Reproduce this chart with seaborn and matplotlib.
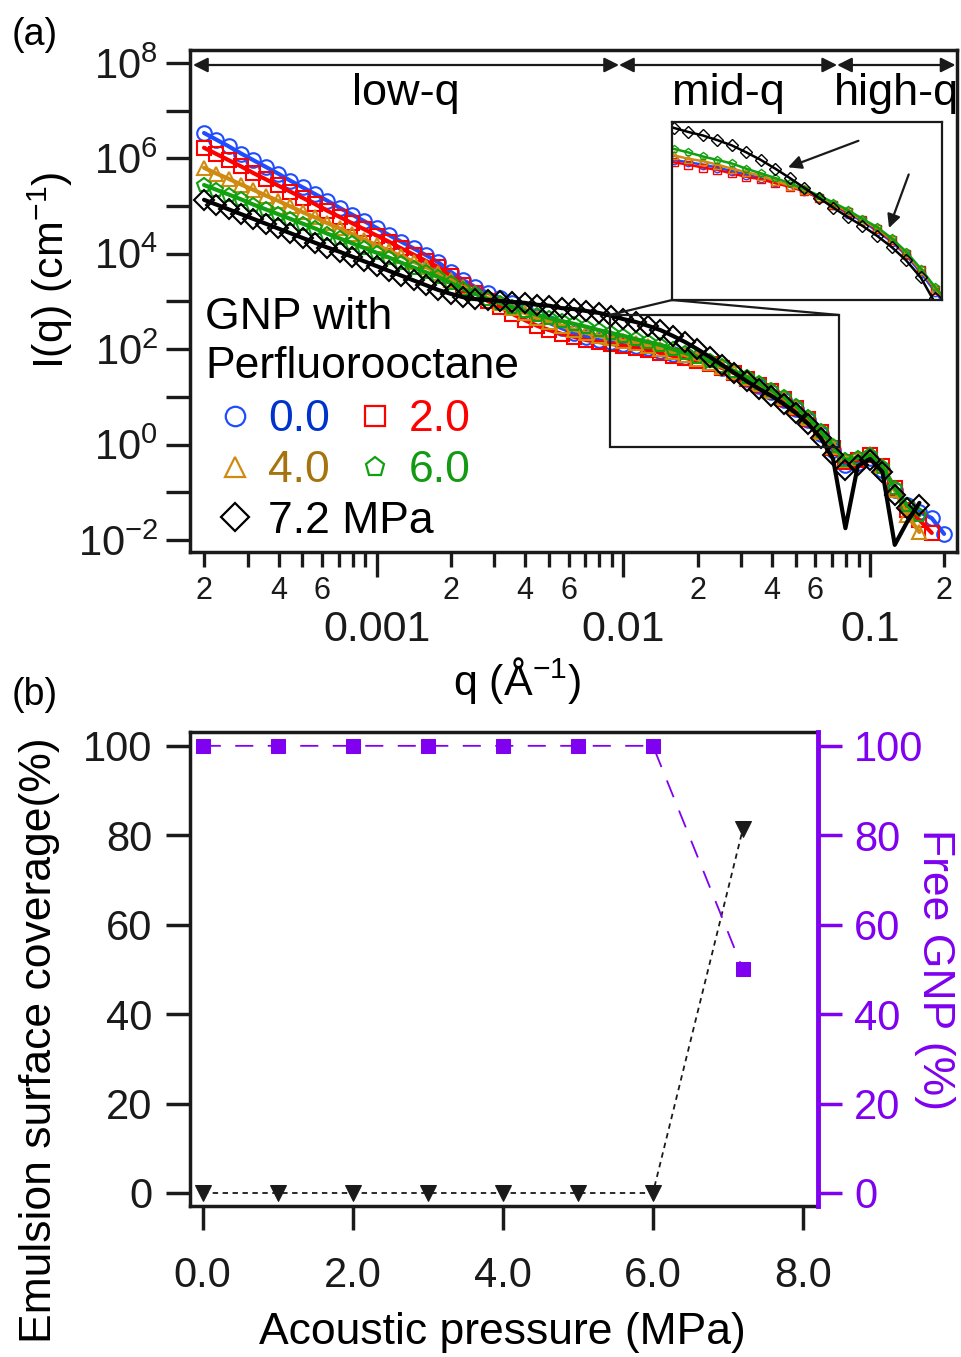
import numpy as np
import pandas as pd
import matplotlib
matplotlib.use("Agg")
import matplotlib.pyplot as plt
import seaborn as sns
from matplotlib.lines import Line2D
from matplotlib.patches import Rectangle, ConnectionPatch
from matplotlib.ticker import FixedLocator, FuncFormatter, LogLocator, NullLocator
from matplotlib.transforms import blended_transform_factory

sns.set_theme(style="ticks")
plt.rcParams["font.family"] = ["Liberation Sans", "DejaVu Sans"]
plt.rcParams["mathtext.fontset"] = "custom"
plt.rcParams["mathtext.rm"] = "Liberation Sans"
plt.rcParams["mathtext.it"] = "Liberation Sans:italic"
plt.rcParams["mathtext.bf"] = "Liberation Sans:bold"
plt.rcParams["axes.unicode_minus"] = False
plt.rcParams["text.color"] = "black"
plt.rcParams["axes.labelcolor"] = "black"
plt.rcParams["xtick.color"] = "black"
plt.rcParams["ytick.color"] = "black"

nan = np.nan

# ---- (a) scattering curves, log10(q) grid and log10(I) per pressure ----
LOG_Q = [-3.70, -3.65, -3.60, -3.55, -3.50, -3.45, -3.40, -3.35, -3.30, -3.25,
         -3.20, -3.15, -3.10, -3.05, -3.00, -2.95, -2.90, -2.85, -2.80, -2.75,
         -2.70, -2.65, -2.60, -2.55, -2.50, -2.45, -2.40, -2.35, -2.30, -2.25,
         -2.20, -2.15, -2.10, -2.05, -2.00, -1.95, -1.90, -1.85, -1.80, -1.75,
         -1.70, -1.65, -1.60, -1.55, -1.50, -1.45, -1.40, -1.35, -1.30, -1.25,
         -1.20, -1.15, -1.10, -1.05, -1.00, -0.95, -0.90, -0.85, -0.80, -0.75,
         -0.70]

LOG_I_00 = [6.53, 6.39, 6.25, 6.10, 5.96, 5.82, 5.68, 5.53, 5.39, 5.25,
            5.11, 4.96, 4.82, 4.68, 4.54, 4.39, 4.25, 4.11, 3.97, 3.82,
            3.62, 3.45, 3.30, 3.18, 3.07, 2.97, 2.82, 2.67, 2.55, 2.44,
            2.34, 2.26, 2.19, 2.15, 2.11, 2.07, 2.02, 1.96, 1.90, 1.84,
            1.77, 1.71, 1.61, 1.50, 1.38, 1.23, 1.10, 0.93, 0.75, 0.52,
            0.22, -0.11, -0.43, -0.39, -0.28, -0.53, -0.95, -1.27, -1.41, -1.54,
            -1.87]

LOG_I_20 = [6.22, 6.09, 5.96, 5.83, 5.69, 5.56, 5.43, 5.30, 5.17, 5.04,
            4.90, 4.77, 4.64, 4.51, 4.38, 4.25, 4.11, 3.98, 3.85, 3.72,
            3.53, 3.35, 3.18, 3.01, 2.88, 2.74, 2.61, 2.49, 2.40, 2.32,
            2.26, 2.19, 2.15, 2.11, 2.07, 2.02, 1.98, 1.92, 1.86, 1.82,
            1.75, 1.69, 1.61, 1.50, 1.38, 1.25, 1.12, 0.96, 0.77, 0.54,
            0.26, -0.07, -0.36, -0.32, -0.22, -0.45, -0.91, -1.37, -1.58, -1.85,
            nan]

LOG_I_40 = [5.80, 5.68, 5.57, 5.45, 5.34, 5.22, 5.11, 4.99, 4.87, 4.76,
            4.64, 4.53, 4.41, 4.29, 4.18, 4.06, 3.95, 3.83, 3.72, 3.60,
            3.45, 3.30, 3.18, 3.07, 2.97, 2.86, 2.76, 2.65, 2.57, 2.49,
            2.40, 2.34, 2.28, 2.23, 2.17, 2.13, 2.07, 2.00, 1.94, 1.88,
            1.79, 1.71, 1.63, 1.52, 1.40, 1.27, 1.12, 0.98, 0.79, 0.56,
            0.26, -0.05, -0.32, -0.28, -0.20, -0.45, -0.95, -1.48, -1.83, nan,
            nan]

LOG_I_60 = [5.44, 5.34, 5.24, 5.14, 5.03, 4.93, 4.83, 4.73, 4.63, 4.53,
            4.42, 4.32, 4.22, 4.12, 4.02, 3.92, 3.81, 3.71, 3.61, 3.51,
            3.39, 3.26, 3.16, 3.05, 2.97, 2.88, 2.80, 2.72, 2.65, 2.59,
            2.53, 2.47, 2.40, 2.34, 2.28, 2.21, 2.15, 2.09, 2.00, 1.92,
            1.84, 1.75, 1.65, 1.54, 1.42, 1.29, 1.14, 1.00, 0.81, 0.58,
            0.29, -0.03, -0.32, -0.28, -0.22, -0.47, -0.91, -1.27, -1.48, nan,
            nan]

LOG_I_72 = [5.13, 5.03, 4.93, 4.83, 4.73, 4.63, 4.53, 4.43, 4.33, 4.23,
            4.13, 4.04, 3.94, 3.84, 3.74, 3.64, 3.54, 3.44, 3.34, 3.24,
            3.16, 3.09, 3.05, 3.03, 3.01, 2.99, 2.97, 2.93, 2.91, 2.86,
            2.84, 2.80, 2.76, 2.70, 2.63, 2.57, 2.49, 2.40, 2.28, 2.15,
            2.00, 1.84, 1.67, 1.50, 1.33, 1.17, 1.02, 0.85, 0.66, 0.43,
            0.14, -0.22, -0.53, -0.43, -0.32, -0.57, -1.06, -1.33, -1.27, nan,
            nan]

# fit of the 7.2 MPa curve at high q (form-factor minima)
FIT_72_LOG_Q = [-1.30, -1.25, -1.20, -1.15, -1.10, -1.05, -1.00, -0.95, -0.90, -0.85, -0.80]
FIT_72_LOG_I = [0.66, 0.43, 0.14, -0.30, -1.75, -0.45, -0.30, -0.57, -2.10, -1.62, -1.22]

PRESSURE_LABELS = ["0.0", "2.0", "4.0", "6.0", "7.2 MPa"]
MARKERS = ["o", "s", "^", "p", "D"]
LINE_COLORS = ["#1f4cff", "#ff0000", "#d08a10", "#10a010", "#000000"]
TEXT_COLORS = ["#0033cc", "#ff0000", "#a5740e", "#129a12", "#000000"]

REGION_EDGES = [1.8e-4, 0.0096, 0.0735, 0.222]
REGION_NAMES = ["low-q", "mid-q", "high-q"]
ZOOM_Q = [0.0088, 0.0748]
ZOOM_I = [0.89, 521.0]

# ---- (b) ----
PRESSURE = [0.0, 1.0, 2.0, 3.0, 4.0, 5.0, 6.0, 7.2]
COVERAGE = [0, 0, 0, 0, 0, 0, 0, 81.5]
FREE_GNP = [100, 100, 100, 100, 100, 100, 100, 50]
PURPLE = "#8000f0"

all_series = [LOG_I_00, LOG_I_20, LOG_I_40, LOG_I_60, LOG_I_72]

fig = plt.figure(figsize=(9.61, 13.57), dpi=100)
ax = fig.add_axes([0.1977, 0.5932, 0.7981, 0.3700])
axb = fig.add_axes([0.1977, 0.1113, 0.6535, 0.3493])


def draw_curves(target, ms, mew, lw):
    for vals, m, c, lab in zip(all_series, MARKERS, LINE_COLORS, PRESSURE_LABELS):
        df = pd.DataFrame({"q": 10 ** np.array(LOG_Q), "I": 10 ** np.array(vals)}).dropna()
        sns.lineplot(data=df, x="q", y="I", ax=target, marker=m, linestyle="",
                     markersize=ms, markerfacecolor="none", markeredgecolor=c,
                     markeredgewidth=mew, color=c, estimator=None, sort=False)
        if lab == "7.2 MPa":
            base = df[np.log10(df["q"]) <= -1.299]
            sns.lineplot(data=base, x="q", y="I", ax=target, color=c, lw=lw,
                         estimator=None, sort=False)
            fit = pd.DataFrame({"q": 10 ** np.array(FIT_72_LOG_Q),
                                "I": 10 ** np.array(FIT_72_LOG_I)})
            sns.lineplot(data=fit, x="q", y="I", ax=target, color=c, lw=lw,
                         estimator=None, sort=False)
        else:
            sns.lineplot(data=df, x="q", y="I", ax=target, color=c, lw=lw,
                         estimator=None, sort=False)


# ---------------- panel (a) ----------------
ax.set_xscale("log")
ax.set_yscale("log")
ax.set_xlim(1.75e-4, 0.225)
ax.set_ylim(10 ** -2.25, 10 ** 8.27)
draw_curves(ax, ms=10.5, mew=1.5, lw=3)

ax.xaxis.set_major_locator(FixedLocator([1e-3, 1e-2, 1e-1]))
ax.xaxis.set_minor_locator(LogLocator(base=10, subs=(2, 3, 4, 5, 6, 7, 8, 9), numticks=30))
ax.xaxis.set_major_formatter(FuncFormatter(lambda v, p: f"{v:g}"))


def q_minor(v, p):
    m = int(round(v / 10 ** np.floor(np.log10(v) + 1e-9)))
    return str(m) if m in (2, 4, 6) else ""


ax.xaxis.set_minor_formatter(FuncFormatter(q_minor))
ax.yaxis.set_major_locator(FixedLocator([10.0 ** k for k in range(-2, 9)]))
ax.yaxis.set_minor_locator(NullLocator())
ax.yaxis.set_major_formatter(FuncFormatter(
    lambda v, p: (r"$\mathregular{10^{%d}}$" % round(np.log10(v))) if round(np.log10(v)) % 2 == 0 else ""))

ax.tick_params(axis="x", which="major", direction="out", length=18, width=2.4, pad=24, labelsize=31, colors="k")
ax.tick_params(axis="x", which="minor", direction="out", length=11, width=2.4, pad=6, labelsize=22, colors="k")
ax.tick_params(axis="y", which="major", direction="out", length=17, width=2.4, pad=6, labelsize=30, colors="k")
ax.tick_params(top=False, right=False, which="both")
for s in ax.spines.values():
    s.set_linewidth(2.5)
    s.set_color("k")

ax.set_xlabel("q (Å$\\mathregular{^{-1}}$)", fontsize=31, va="center")
ax.xaxis.set_label_coords(0.426, -0.255)
ax.set_ylabel("I(q) (cm$\\mathregular{^{-1}}$)", fontsize=31, va="center")
ax.yaxis.set_label_coords(-0.1825, 0.562)

# q-range arrows
trans = blended_transform_factory(ax.transData, ax.transAxes)
for lo, hi, name in zip(REGION_EDGES[:-1], REGION_EDGES[1:], REGION_NAMES):
    ax.annotate("", xy=(hi, 0.970), xytext=(lo, 0.970), xycoords=trans, textcoords=trans,
                arrowprops=dict(arrowstyle="<|-|>", color="k", lw=1.6, mutation_scale=22,
                                shrinkA=0, shrinkB=0))
    ax.text(np.sqrt(lo * hi), 0.914, name, transform=trans, ha="center", va="center", fontsize=32.5)

# zoom box + inset
ax.add_patch(Rectangle((ZOOM_Q[0], ZOOM_I[0]), ZOOM_Q[1] - ZOOM_Q[0], ZOOM_I[1] - ZOOM_I[0],
                       fill=False, ec="k", lw=1.6, zorder=5))
axin = fig.add_axes([0.6993, 0.7789, 0.2810, 0.1312])
axin.set_xscale("log")
axin.set_yscale("log")
draw_curves(axin, ms=6, mew=1.0, lw=1.8)
axin.set_xlim(ZOOM_Q[0], ZOOM_Q[1])
axin.set_ylim(10 ** -0.25, 10 ** 2.8)
axin.set_xticks([])
axin.set_yticks([])
axin.xaxis.set_minor_locator(NullLocator())
axin.yaxis.set_minor_locator(NullLocator())
axin.set_xlabel("")
axin.set_ylabel("")
for s in axin.spines.values():
    s.set_linewidth(1.6)
    s.set_color("k")
for corner in [(ZOOM_Q[0], ZOOM_I[1]), (ZOOM_Q[1], ZOOM_I[1])]:
    fig.add_artist(ConnectionPatch(xyA=(0, 0), coordsA=axin.transAxes, xyB=corner,
                                   coordsB=ax.transData, color="k", lw=1.6))
axin.annotate("", xy=(0.42, 0.74), xytext=(0.70, 0.90), xycoords="axes fraction",
              arrowprops=dict(arrowstyle="-|>", color="k", lw=1.6, mutation_scale=20))
axin.annotate("", xy=(0.80, 0.39), xytext=(0.88, 0.72), xycoords="axes fraction",
              arrowprops=dict(arrowstyle="-|>", color="k", lw=1.6, mutation_scale=20))

# legend: first column 0.0 / 4.0 / 7.2 MPa, second column 2.0 / 6.0
order = [0, 2, 4, 1, 3]
handles = [Line2D([], [], ls="none", marker=MARKERS[i], ms=14, mfc="none",
                  mec=LINE_COLORS[i], mew=1.6) for i in order]
leg = ax.legend(handles, [PRESSURE_LABELS[i] for i in order], ncol=2, loc="upper left",
                bbox_to_anchor=(0.02, 0.508), frameon=False,
                title="GNP with\nPerfluorooctane", title_fontsize=32, fontsize=32,
                handlelength=1.35, handletextpad=0.07, columnspacing=-2.0,
                labelspacing=0.22, borderpad=0, borderaxespad=0, alignment="left")
leg.get_title().set_linespacing(1.25)
leg._legend_box.sep = 9
for t, i in zip(leg.get_texts(), order):
    t.set_color(TEXT_COLORS[i])

# ---------------- panel (b) ----------------
ax2 = axb.twinx()
sns.lineplot(x=PRESSURE, y=COVERAGE, ax=axb, color="k", marker="v", markersize=12,
             markeredgecolor="k", linestyle=(0, (3, 2.5)), lw=1.3, estimator=None, sort=False)
sns.lineplot(x=PRESSURE, y=FREE_GNP, ax=ax2, color=PURPLE, marker="s", markersize=10.5,
             markeredgecolor=PURPLE, linestyle=(0, (10, 8)), lw=1.3, estimator=None, sort=False)
for a in (axb, ax2):
    a.set_xlim(-0.17, 8.2)
    a.set_ylim(-2.9, 103.1)
axb.set_xticks([0, 2, 4, 6, 8])
axb.set_xticklabels(["0.0", "2.0", "4.0", "6.0", "8.0"])
axb.set_yticks([0, 20, 40, 60, 80, 100])
ax2.set_yticks([0, 20, 40, 60, 80, 100])
axb.tick_params(axis="both", direction="out", length=17, width=2.5, labelsize=30, colors="k")
axb.tick_params(axis="x", pad=19)
axb.tick_params(axis="y", pad=10)
ax2.tick_params(axis="y", direction="out", length=17, width=2.5, labelsize=30,
                colors=PURPLE, pad=9)
for name in ("left", "bottom", "top"):
    axb.spines[name].set_linewidth(2.5)
    axb.spines[name].set_color("k")
    ax2.spines[name].set_visible(False)
axb.spines["right"].set_visible(False)
ax2.spines["right"].set_linewidth(3.5)
ax2.spines["right"].set_color(PURPLE)

axb.set_xlabel("Acoustic pressure (MPa)", fontsize=32, va="center")
axb.xaxis.set_label_coords(0.498, -0.268)
axb.set_ylabel("Emulsion surface coverage(%)", fontsize=32, va="center")
axb.yaxis.set_label_coords(-0.239, 0.350)
ax2.set_ylabel("Free GNP (%)", fontsize=32, color=PURPLE, rotation=270, va="center")
ax2.yaxis.set_label_coords(1.186, 0.498)

fig.text(35 / 961, 1 - 35 / 1357, "(a)", fontsize=27, ha="center", va="center")
fig.text(35 / 961, 1 - 695 / 1357, "(b)", fontsize=27, ha="center", va="center")

fig.savefig("out.png", dpi=100)
